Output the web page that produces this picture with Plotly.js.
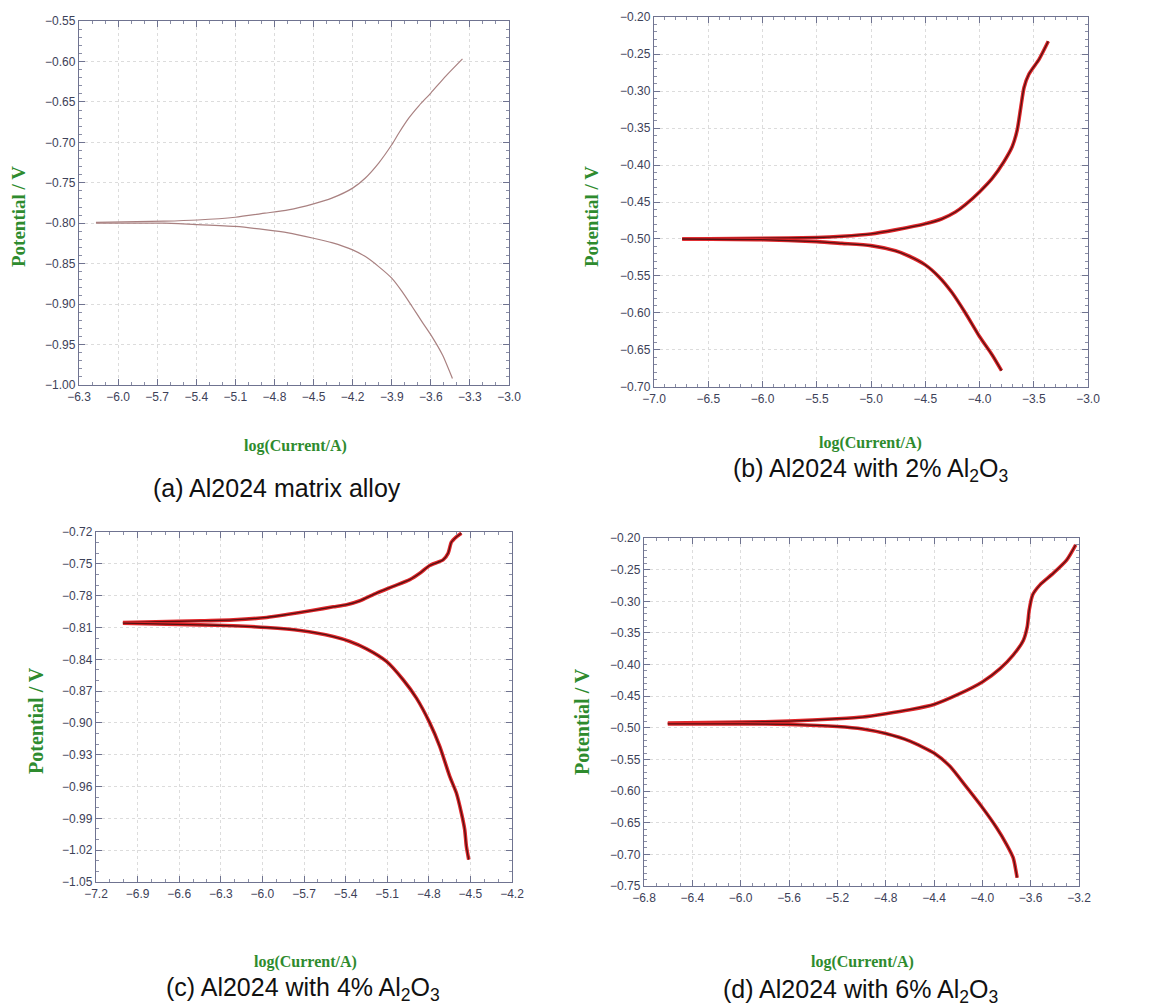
<!DOCTYPE html>
<html>
<head>
<meta charset="utf-8">
<script src="https://cdn.plot.ly/plotly-3.0.1.min.js"></script>
<style>html,body{margin:0;padding:0;background:#fff;}</style>
</head>
<body>
<div id="chart" style="width:1152px;height:1008px;"></div>
<script>
// ---- Data: log(Current/A) vs Potential / V ----
// (a) Al2024 matrix alloy
const aUpX = [-6.17, -5.645, -5.39, -5.1, -4.874, -4.694, -4.5, -4.36, -4.2, -4.102, -4.0, -3.9, -3.845, -3.768, -3.69, -3.6, -3.485, -3.357];
const aUpY = [-0.799, -0.7975, -0.796, -0.7926, -0.7876, -0.7835, -0.776, -0.769, -0.7566, -0.744, -0.7256, -0.703, -0.6884, -0.6698, -0.6545, -0.639, -0.618, -0.5967];
const aLoX = [-6.17, -5.645, -5.39, -5.1, -4.874, -4.694, -4.5, -4.36, -4.2, -4.102, -4.0, -3.9, -3.82, -3.744, -3.667, -3.59, -3.51, -3.434];
const aLoY = [-0.800, -0.800, -0.8017, -0.804, -0.808, -0.812, -0.8186, -0.824, -0.833, -0.8413, -0.8537, -0.868, -0.8847, -0.903, -0.922, -0.9405, -0.963, -0.992];
// (b) Al2024 with 2% Al2O3
const bUpX = [-6.74, -6.006, -5.5, -5.268, -5.0, -4.775, -4.5, -4.345, -4.222, -4.13, -4.0, -3.883, -3.775, -3.698, -3.652, -3.62, -3.59, -3.545, -3.45, -3.366];
const bUpY = [-0.500, -0.499, -0.498, -0.4964, -0.4932, -0.4877, -0.4795, -0.4727, -0.4636, -0.4536, -0.4364, -0.4182, -0.3955, -0.375, -0.3523, -0.3227, -0.2955, -0.2773, -0.2568, -0.2327];
const bLoX = [-6.74, -6.006, -5.5, -5.268, -5.0, -4.775, -4.652, -4.5, -4.375, -4.252, -4.13, -4.0, -3.883, -3.797];
const bLoY = [-0.500, -0.501, -0.5036, -0.506, -0.509, -0.516, -0.523, -0.535, -0.551, -0.5727, -0.600, -0.6318, -0.6568, -0.678];
// (c) Al2024 with 4% Al2O3
const cUpX = [-7.006, -6.449, -6.209, -5.969, -5.825, -5.633, -5.489, -5.393, -5.297, -5.177, -5.057, -4.937, -4.865, -4.793, -4.697, -4.661, -4.637, -4.601, -4.565];
const cUpY = [-0.8053, -0.8037, -0.8028, -0.8005, -0.7978, -0.7938, -0.7905, -0.7885, -0.7848, -0.7775, -0.7712, -0.7648, -0.7588, -0.7515, -0.7462, -0.740, -0.7295, -0.7245, -0.721];
const cLoX = [-7.006, -6.449, -6.209, -5.969, -5.729, -5.489, -5.369, -5.249, -5.105, -4.985, -4.889, -4.793, -4.721, -4.649, -4.601, -4.565, -4.541, -4.529, -4.512];
const cLoY = [-0.8059, -0.8075, -0.8084, -0.810, -0.8128, -0.8185, -0.8232, -0.8301, -0.842, -0.8593, -0.8766, -0.900, -0.9222, -0.9505, -0.9662, -0.985, -1.0007, -1.0164, -1.029];
// (d) Al2024 with 6% Al2O3
const dUpX = [-6.603, -5.988, -5.6, -5.2, -4.99, -4.8, -4.6, -4.4, -4.187, -4.0, -3.853, -3.745, -3.66, -3.628, -3.612, -3.584, -3.523, -3.412, -3.301, -3.227];
const dUpY = [-0.4926, -0.491, -0.4894, -0.4857, -0.483, -0.4778, -0.4714, -0.463, -0.446, -0.4275, -0.4063, -0.385, -0.3614, -0.340, -0.3138, -0.290, -0.274, -0.2555, -0.2344, -0.2106];
const dLoX = [-6.603, -5.988, -5.6, -5.2, -4.99, -4.8, -4.6, -4.4, -4.27, -4.132, -4.0, -3.883, -3.8, -3.745, -3.712];
const dLoY = [-0.4937, -0.4937, -0.4947, -0.4979, -0.5018, -0.509, -0.521, -0.540, -0.5605, -0.5935, -0.626, -0.6577, -0.6841, -0.7053, -0.737];

// ---- Text ----
const xTitle = 'log(Current/A)';
const yTitle = 'Potential / V';
const captions = [
  '(a) Al2024 matrix alloy',
  '(b) Al2024 with 2% Al<sub>2</sub>O<sub>3</sub>',
  '(c) Al2024 with 4% Al<sub>2</sub>O<sub>3</sub>',
  '(d) Al2024 with 6% Al<sub>2</sub>O<sub>3</sub>'
];

// ---- Layout helpers ----
const W = 1152, H = 1008;
const px = v => v / W;
const py = v => 1 - v / H;

const tickFont = {family: 'Liberation Sans Narrow, Arial Narrow, Liberation Sans, sans-serif', size: 12, color: '#3d4158'};
function axis(dom, range, dtick, minorD, fmt, anchor) {
  return {
    domain: dom, range: range, anchor: anchor, autorange: false,
    tickmode: 'linear', tick0: 0, dtick: dtick, tickformat: fmt,
    ticks: 'inside', ticklen: 6, tickwidth: 1, tickcolor: '#6f7390',
    minor: {ticks: 'inside', ticklen: 3, tickcolor: '#8a8ea6', dtick: minorD, tick0: 0, showgrid: false},
    showline: true, linecolor: '#6f7390', linewidth: 1.2, mirror: 'ticks',
    showgrid: true, gridcolor: '#dcdcdc', griddash: 'dot', gridwidth: 1,
    zeroline: false, tickfont: tickFont, fixedrange: true
  };
}

const traces = [];
function addPanel(upX, upY, loX, loY, xa, ya, thin) {
  if (thin) {
    [[upX, upY], [loX, loY]].forEach(([x, y]) => traces.push({
      x: x, y: y, xaxis: xa, yaxis: ya, mode: 'lines', type: 'scatter',
      line: {color: '#a98181', width: 1.2, shape: 'spline', smoothing: 0.6}, hoverinfo: 'skip', showlegend: false
    }));
  } else {
    [[upX, upY], [loX, loY]].forEach(([x, y]) => {
      traces.push({x: x, y: y, xaxis: xa, yaxis: ya, mode: 'lines', type: 'scatter',
        line: {color: '#e0262a', width: 3.6, shape: 'spline', smoothing: 0.6}, hoverinfo: 'skip', showlegend: false});
      traces.push({x: x, y: y, xaxis: xa, yaxis: ya, mode: 'lines', type: 'scatter',
        line: {color: '#541212', width: 1.3, shape: 'spline', smoothing: 0.6}, hoverinfo: 'skip', showlegend: false});
    });
  }
}
addPanel(aUpX, aUpY, aLoX, aLoY, 'x', 'y', true);
addPanel(bUpX, bUpY, bLoX, bLoY, 'x2', 'y2', false);
addPanel(cUpX, cUpY, cLoX, cLoY, 'x3', 'y3', false);
addPanel(dUpX, dUpY, dLoX, dLoY, 'x4', 'y4', false);

const eps = 1e-4;
const layout = {
  width: W, height: H,
  margin: {l: 0, r: 0, t: 0, b: 0},
  paper_bgcolor: '#ffffff', plot_bgcolor: '#ffffff',
  showlegend: false,
  xaxis:  axis([px(79), px(509)],  [-6.3 - eps, -3.0 + eps], 0.3, 0.1, '.1f', 'y'),
  yaxis:  axis([py(385), py(21)],  [-1.0 - eps, -0.55 + eps], 0.05, 0.01, '.2f', 'x'),
  xaxis2: axis([px(654), px(1088)], [-7.0 - eps, -3.0 + eps], 0.5, 0.1, '.1f', 'y2'),
  yaxis2: axis([py(387), py(17)],  [-0.70 - eps, -0.20 + eps], 0.05, 0.01, '.2f', 'x2'),
  xaxis3: axis([px(96), px(512)],  [-7.2 - eps, -4.2 + eps], 0.3, 0.1, '.1f', 'y3'),
  yaxis3: axis([py(882), py(532)], [-1.05 - eps, -0.72 + eps], 0.03, 0.01, '.2f', 'x3'),
  xaxis4: axis([px(644), px(1079)], [-6.8 - eps, -3.2 + eps], 0.4, 0.1, '.1f', 'y4'),
  yaxis4: axis([py(886), py(538)], [-0.75 - eps, -0.20 + eps], 0.05, 0.01, '.2f', 'x4'),
  annotations: []
};

const serif = 'Liberation Serif, Times New Roman, serif';
const xtFont = {family: serif, size: 16, color: '#2e8b2e'};
const ytFontTop = {family: serif, size: 19, color: '#2e8b2e'};
const ytFontBot = {family: serif, size: 20, color: '#2e8b2e'};
const capFont = {family: 'Liberation Sans, Arial, sans-serif', size: 25, color: '#111111'};
function ann(text, x, y, font, angle) {
  layout.annotations.push({text: text, x: px(x), y: py(y), xref: 'paper', yref: 'paper',
    xanchor: 'center', yanchor: 'middle', showarrow: false, font: font, textangle: angle || 0});
}
// axis titles
ann('<b>' + xTitle + '</b>', 295, 446, xtFont);
ann('<b>' + xTitle + '</b>', 870, 443, xtFont);
ann('<b>' + xTitle + '</b>', 305, 962, xtFont);
ann('<b>' + xTitle + '</b>', 862, 962, xtFont);
ann('<b>' + yTitle + '</b>', 18, 217, ytFontTop, -90);
ann('<b>' + yTitle + '</b>', 591, 217, ytFontTop, -90);
ann('<b>' + yTitle + '</b>', 36, 721, ytFontBot, -90);
ann('<b>' + yTitle + '</b>', 582, 722, ytFontBot, -90);
// captions
ann(captions[0], 277, 488, capFont);
ann(captions[1], 870, 470, capFont);
ann(captions[2], 303, 989, capFont);
ann(captions[3], 860, 991, capFont);

Plotly.newPlot('chart', traces, layout, {displayModeBar: false, staticPlot: true});
</script>
</body>
</html>
